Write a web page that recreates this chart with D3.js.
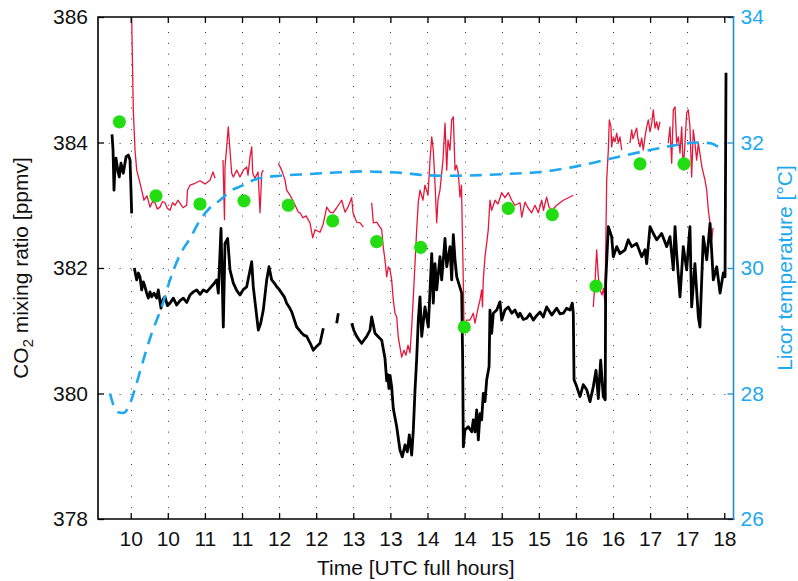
<!DOCTYPE html>
<html>
<head>
<meta charset="utf-8">
<script src="https://cdn.jsdelivr.net/npm/d3@7"></script>
<style>
  html, body { margin: 0; padding: 0; background: #fff; }
  svg { display: block; font-family: "Liberation Sans", Arial, sans-serif; }
</style>
</head>
<body>
<svg id="chart" width="798" height="581"></svg>
<script>
// Time axis: ticks every half hour, labelled with the full hour
const hourTicks = [10, 10.5, 11, 11.5, 12, 12.5, 13, 13.5, 14, 14.5, 15, 15.5, 16, 16.5, 17, 17.5, 18];
const hourTickLabels = ["10", "10", "11", "11", "12", "12", "13", "13", "14", "14", "15", "15", "16", "16", "17", "17", "18"];
const co2Ticks = [378, 380, 382, 384, 386];
const tempTicks = [26, 28, 30, 32, 34];

// Licor CO2 (black), null marks a data gap
const licorTime = [9.748, 9.762, 9.775, 9.789, 9.802, 9.829, 9.846, 9.869, 9.900, 9.937, 9.968, 9.991, 10.004, 10.013, 10.030,
  10.049, 10.065, 10.081, 10.103, 10.125, 10.148, 10.170, 10.193, 10.215, 10.237, 10.260, 10.283, 10.315, 10.350, 10.372, 10.408, 10.435, 10.462, 10.495, 10.530, 10.575, 10.620, 10.665, 10.709, 10.755, 10.799,
  10.845, 10.889, 10.935, 10.978, 11.025, 11.069, 11.115, 11.159, 11.181, 11.217, 11.248, 11.271, 11.307, 11.338, 11.383, 11.430, 11.473, 11.520, 11.563, 11.631, 11.652,
  11.720, 11.752, 11.787, 11.833, 11.864, 11.900, 11.935, 11.968, 12.000, 12.035, 12.070, 12.102, 12.135, 12.170, 12.237, 12.300, 12.335, 12.372, 12.420, 12.461, 12.505, 12.551,
  12.596, 12.690, 12.776, 12.798, 12.900, 12.978, 13.010, 13.046, 13.080, 13.113, 13.150, 13.181, 13.225, 13.248, 13.292, 13.340, 13.383, 13.427, 13.450,
  13.465, 13.480, 13.495, 13.517, 13.539, 13.585, 13.629, 13.660, 13.697, 13.728, 13.755, 13.787, 13.809, 13.832, 13.854,
  13.876, 13.899, 13.922, 13.966, 14.011, 14.057, 14.078, 14.101, 14.124, 14.168, 14.191, 14.236, 14.259, 14.303, 14.326,
  14.348, 14.371, 14.394, 14.461, 14.474, 14.483, 14.505, 14.550, 14.596, 14.617, 14.640, 14.663, 14.685, 14.708, 14.730,
  14.752, 14.775, 14.798, 14.830, 14.842, 14.865, 14.887, 14.933, 14.977, 15.000, 15.044, 15.089, 15.135, 15.179, 15.224,
  15.247, 15.290, 15.337, 15.380, 15.426, 15.470, 15.517, 15.560, 15.606, 15.674, 15.741, 15.785, 15.830, 15.875, 15.920, 15.951, 15.965, 15.975, 16.011, 16.055, 16.100,
  16.146, 16.190, 16.235, 16.271, 16.302, 16.334, 16.369, 16.395, 16.401, 16.437, 16.482, 16.504, 16.550, 16.594, 16.662,
  16.706, 16.752, 16.819, 16.887, 16.931, 16.954, 16.999, 17.043, 17.089, 17.156, 17.224, 17.268, 17.313, 17.336, 17.358,
  17.403, 17.447, 17.493, 17.537, 17.560, 17.604, 17.650, 17.672, 17.717, 17.763, 17.808, 17.852, 17.898, 17.943, 17.987,
  18.010, 18.023];
const licorCO2 = [384.13, 383.88, 383.24, 383.64, 383.75, 383.53, 383.45, 383.67, 383.51, 383.77, 383.80, 383.72, 383.24, 382.87, null,
  382.00, 381.90, 381.81, 381.92, 381.86, 381.65, 381.78, 381.70, 381.60, 381.52, 381.62, 381.54, 381.60, 381.52, 381.65, 381.36, 381.50, 381.54, 381.40, 381.44, 381.52, 381.41, 381.48, 381.52, 381.45, 381.57,
  381.62, 381.65, 381.58, 381.65, 381.62, 381.68, 381.74, 381.81, 381.60, 382.63, 381.06, 382.39, 382.47, 381.97, 381.76, 381.64, 381.57, 381.66, 381.70, 382.10, 381.70,
  381.01, 381.12, 381.33, 381.81, 382.02, 381.81, 381.76, 381.70, 381.66, 381.60, 381.54, 381.44, 381.38, 381.30, 381.06, 380.97, 380.93, 380.91, 380.80, 380.69, 380.75, 380.80,
  381.04, null, 381.12, 381.28, null, 381.12, 381.00, 380.91, 380.85, 380.80, 380.86, 380.91, 381.01, 381.22, 380.96, 380.90, 380.85, 380.56, 380.20,
  380.30, 380.08, 380.29, 380.11, 379.76, 379.47, 379.10, 378.99, 379.18, 379.07, 379.34, 379.02, 379.42, 380.06, 380.55,
  381.17, 381.54, 380.91, 381.38, 381.06, 382.23, 381.44, 382.07, 381.65, 382.18, 381.81, 382.47, 382.02, 382.34, 381.81,
  382.53, 382.13, 381.86, 381.60, 380.53, 379.15, 379.42, 379.47, 379.39, 379.58, 379.39, 379.74, 379.26, 379.68, 379.58,
  380.00, 379.87, 380.22, 380.43, 381.33, 380.96, 381.28, 381.33, 381.46, 381.17, 381.33, 381.38, 381.28, 381.33, 381.22,
  381.28, 381.18, 381.20, 381.27, 381.17, 381.24, 381.30, 381.22, 381.38, 381.25, 381.36, 381.27, 381.28, 381.36, 381.33, 381.44, 381.28, 380.22, 380.11, 379.95, 380.14,
  380.06, 379.87, 380.11, 380.37, 379.92, 380.53, 379.95, 379.90, 381.76, 382.66, 382.50, 382.18, 382.34, 382.23, 382.29,
  382.45, 382.34, 382.39, 382.18, 382.29, 382.07, 382.66, 382.55, 382.45, 382.55, 382.34, 382.50, 381.97, 382.66, 382.23,
  381.54, 382.34, 381.97, 382.66, 381.38, 382.07, 381.22, 381.06, 382.50, 382.13, 382.71, 381.81, 382.02, 381.60, 381.92,
  381.86, 385.11];

// Second CO2 record (red), null marks a data gap
const analyzerTime = [10.007, 10.013, 10.035, 10.058, 10.081, 10.116, 10.148, 10.179, 10.220, 10.260, 10.295, 10.327, 10.360, 10.395, 10.430, 10.462, 10.495, 10.530, 10.565, 10.597,
  10.637, 10.705, 10.755, 10.765, 10.799, 10.867, 10.934, 11.001, 11.069, 11.109, 11.136, 11.190,
  11.244, 11.264, 11.271, 11.294, 11.315, 11.338, 11.361, 11.383, 11.429, 11.473, 11.518, 11.563, 11.581, 11.608, 11.631,
  11.644, 11.675, 11.716, 11.743, 11.766, 11.787, 11.890,
  11.989, 12.035, 12.080, 12.102, 12.147, 12.201, 12.259, 12.282, 12.322, 12.363, 12.416, 12.453, 12.484, 12.551, 12.592,
  12.619, 12.642, 12.686, 12.726, 12.776, 12.821, 12.844, 12.888, 12.929, 12.978, 12.996, 13.046, 13.091, 13.135, 13.190,
  13.248, 13.270, 13.315, 13.360, 13.383, 13.404, 13.427, 13.450, 13.472, 13.495, 13.517, 13.539, 13.562, 13.585, 13.606,
  13.629, 13.652, 13.683, 13.710, 13.737, 13.764, 13.787, 13.809, 13.832, 13.854, 13.876, 13.899, 13.939, 13.966, 14.007,
  14.034, 14.057, 14.078, 14.101, 14.124, 14.141, 14.168, 14.209, 14.236, 14.259, 14.276, 14.303, 14.326, 14.348, 14.371,
  14.391, 14.415, 14.438, 14.458, 14.482, 14.492, 14.528, 14.573, 14.617, 14.640, 14.685, 14.708, 14.730, 14.741, 14.752,
  14.775, 14.798, 14.819, 14.842, 14.865, 14.910, 14.950, 15.000, 15.044, 15.089, 15.135, 15.179, 15.247, 15.270, 15.314,
  15.354, 15.404, 15.449, 15.493, 15.539, 15.563, 15.606, 15.637, 15.678, 15.741, 15.786, 15.830, 15.898, 15.965, 16.100,
  16.234, 16.257, 16.280, 16.302, 16.325, 16.352, 16.372, 16.392, 16.415, 16.437, 16.450, 16.473, 16.482, 16.504, 16.526,
  16.550, 16.571, 16.594, 16.617, 16.670,
  16.729, 16.752, 16.769, 16.796, 16.819, 16.837, 16.864, 16.887, 16.908, 16.931, 16.954, 16.976, 16.999, 17.022, 17.043,
  17.066, 17.089, 17.110, 17.133, 17.190,
  17.245, 17.268, 17.291, 17.313, 17.336, 17.358, 17.380, 17.403, 17.426, 17.447, 17.470, 17.493, 17.515, 17.537, 17.560,
  17.582, 17.604, 17.628, 17.650, 17.700, 17.740, 17.763, 17.785, 17.808, 17.831, 17.848];
const analyzerCO2 = [386.27, 386.00, 384.52, 383.88, 383.56, 383.40, 383.24, 383.08, 383.15, 382.97, 383.06, 383.04, 382.94, 382.97, 383.06, 383.04, 382.95, 382.92, 383.04, 383.00,
  383.08, 382.96, 383.00, 383.24, 383.32, 383.35, 383.39, 383.34, 383.40, 383.53, 383.43, null,
  383.72, 382.77, 383.61, 383.93, 384.25, 383.88, 383.51, 383.45, 383.56, 383.45, 383.56, 383.61, 383.48, 383.77, 383.93,
  383.51, 383.43, 383.53, 382.88, 383.51, 383.56, null,
  383.67, 383.56, 383.40, 383.24, 383.16, 383.04, 382.89, 382.88, 382.80, 382.83, 382.72, 382.48, 382.61, 382.57, 382.69,
  382.84, 382.97, 382.89, 382.88, 382.96, 383.04, 383.08, 382.89, 382.97, 383.12, 382.88, 382.73, 382.72, 382.65, null,
  383.04, 382.72, 382.73, 382.65, 382.61, 382.33, 382.13, 381.86, 382.02, 381.97, 381.81, 381.49, 381.28, 381.22, 380.90,
  380.74, 380.58, 380.69, 380.61, 380.77, 380.65, 381.06, 381.54, 382.08, 382.61, 383.05, 383.24, 383.08, 383.32, 383.16,
  383.72, 384.09, 383.88, 383.35, 382.72, 383.08, 383.24, 383.72, 384.31, 383.56, 384.04, 383.88, 384.36, 384.41, 383.56,
  383.64, 383.51, 383.13, 383.32, 381.81, 381.06, 381.17, 381.17, 381.28, 381.12, 381.38, 381.49, 381.65, 381.38, 381.81,
  382.18, 382.40, 382.61, 383.08, 382.92, 383.08, 383.02, 383.20, 383.12, 383.20, 383.08, 383.00, 383.04, 382.81, 383.05,
  382.96, 382.88, 383.00, 382.88, 383.08, 382.92, 383.13, 382.97, 382.92, 383.00, 383.04, 383.08, 383.12, 383.16, null,
  381.38, 381.76, 382.29, 381.86, 381.65, 381.57, 381.68, 381.44, 383.40, 383.88, 384.36, 384.25, 383.93, 384.09, 384.01,
  384.15, 383.99, 384.09, 383.88, null,
  383.99, 384.20, 384.06, 384.15, 384.23, 384.06, 383.93, 384.07, 383.88, 384.09, 384.25, 384.36, 384.17, 384.31, 384.52,
  384.23, 384.33, 384.20, 384.33, null,
  383.99, 384.25, 383.67, 384.52, 384.57, 383.99, 384.09, 383.83, 384.25, 383.56, 383.99, 384.47, 384.52, 384.25, 383.45,
  384.20, 383.99, 383.72, 383.99, 383.60, 383.40, 383.24, 382.92, 382.72, 382.45, 382.64];

// Discrete reference samples (green dots)
const sampleTime = [9.847, 10.341, 10.934, 11.527, 12.124, 12.722, 13.315, 13.908, 14.496, 15.089, 15.682, 16.271, 16.864, 17.457];
const sampleCO2 = [384.33, 383.15, 383.02, 383.07, 383.00, 382.75, 382.42, 382.33, 381.06, 382.95, 382.85, 381.71, 383.66, 383.66];

// Licor cell temperature (right axis)
const tempTime = [9.722, 9.766, 9.830, 9.900, 9.991, 10.058, 10.170, 10.283, 10.418, 10.530, 10.664, 10.799, 10.934, 11.069, 11.203,
  11.338, 11.517, 11.698, 12.012, 12.282, 12.596, 12.911, 13.135, 13.404, 13.720, 13.943, 14.303, 14.708, 15.089, 15.516,
  15.920, 16.280, 16.639, 16.999, 17.358, 17.628, 17.808, 17.919, 18.009];
const tempC = [28.00, 27.82, 27.70, 27.69, 27.84, 28.08, 28.53, 28.96, 29.38, 29.81, 30.21, 30.47, 30.76, 30.96, 31.08,
  31.22, 31.32, 31.42, 31.47, 31.49, 31.51, 31.53, 31.54, 31.53, 31.51, 31.48, 31.47, 31.48, 31.50, 31.53,
  31.60, 31.69, 31.79, 31.88, 31.96, 32.00, 31.99, 31.93, 31.88];

const plot = { left: 98, right: 733.5, top: 17, bottom: 519 };
const FONT = 21;
const TEMP_COLOR = "#1ea8f2";
const AXIS_RIGHT_COLOR = "#1c8fd0";

const svg = d3.select("#chart");

const x = d3.scaleLinear().domain([9.5593, 18.124]).range([plot.left, plot.right]);
const yCO2 = d3.scaleLinear().domain([378, 386]).range([plot.bottom, plot.top]);
const yTemp = d3.scaleLinear().domain([26, 34]).range([plot.bottom, plot.top]);

svg.append("defs").append("clipPath").attr("id", "plotClip")
  .append("rect")
  .attr("x", plot.left).attr("y", plot.top)
  .attr("width", plot.right - plot.left).attr("height", plot.bottom - plot.top);

// Dotted grid
const grid = svg.append("g").attr("stroke", "#3a3a3a").attr("stroke-width", 1)
  .attr("stroke-dasharray", "1,9.8").attr("fill", "none");
grid.selectAll("line.vx").data(hourTicks.filter(t => t < 18)).join("line")
  .attr("x1", d => Math.round(x(d)) + 0.5).attr("x2", d => Math.round(x(d)) + 0.5)
  .attr("y1", plot.bottom).attr("y2", plot.top);
grid.selectAll("line.hy").data(co2Ticks.filter(v => v > 378 && v < 386)).join("line")
  .attr("x1", plot.left).attr("x2", plot.right)
  .attr("y1", d => Math.round(yCO2(d)) + 0.5).attr("y2", d => Math.round(yCO2(d)) + 0.5);

const data = (ts, vs) => ts.map((t, i) => [t, vs[i]]);
const marks = svg.append("g").attr("clip-path", "url(#plotClip)");

// Red CO2 record
marks.append("path")
  .datum(data(analyzerTime, analyzerCO2))
  .attr("fill", "none").attr("stroke", "#e5173a").attr("stroke-width", 1.3)
  .attr("stroke-linejoin", "round")
  .attr("d", d3.line().defined(d => d[1] != null).x(d => x(d[0])).y(d => yCO2(d[1])));

// Licor CO2
marks.append("path")
  .datum(data(licorTime, licorCO2))
  .attr("fill", "none").attr("stroke", "#000").attr("stroke-width", 2.8)
  .attr("stroke-linejoin", "round")
  .attr("d", d3.line().defined(d => d[1] != null).x(d => x(d[0])).y(d => yCO2(d[1])));

// Licor temperature (dashed)
marks.append("path")
  .datum(data(tempTime, tempC))
  .attr("fill", "none").attr("stroke", TEMP_COLOR).attr("stroke-width", 2.6)
  .attr("stroke-dasharray", "12,8")
  .attr("d", d3.line().curve(d3.curveMonotoneX).x(d => x(d[0])).y(d => yTemp(d[1])));

// Reference samples
marks.selectAll("circle.sample").data(data(sampleTime, sampleCO2)).join("circle")
  .attr("class", "sample")
  .attr("cx", d => x(d[0])).attr("cy", d => yCO2(d[1])).attr("r", 6.6)
  .attr("fill", "#22dd11");

// Axes
const tickLabel = d3.scaleOrdinal().domain(hourTicks).range(hourTickLabels);

const xAxis = svg.append("g").attr("transform", `translate(0,${plot.bottom})`)
  .call(d3.axisBottom(x).tickValues(hourTicks).tickSize(-6).tickPadding(12)
    .tickFormat(d => tickLabel(d)));
const xAxisTop = svg.append("g").attr("transform", `translate(0,${plot.top})`)
  .call(d3.axisTop(x).tickValues(hourTicks).tickSize(-6).tickFormat(""));
const yAxis = svg.append("g").attr("transform", `translate(${plot.left},0)`)
  .call(d3.axisLeft(yCO2).tickValues(co2Ticks).tickSize(-6).tickPadding(10).tickFormat(d3.format("d")));
const yAxisRight = svg.append("g").attr("transform", `translate(${plot.right},0)`)
  .call(d3.axisRight(yTemp).tickValues(tempTicks).tickSize(-6).tickPadding(7).tickFormat(d3.format("d")));

[xAxis, xAxisTop, yAxis, yAxisRight].forEach(g => {
  g.select(".domain").remove();
  g.selectAll("text").attr("font-size", FONT).attr("font-family", "Liberation Sans, Arial, sans-serif");
});
[xAxis, xAxisTop, yAxis].forEach(g => g.selectAll(".tick line").attr("stroke", "#000").attr("stroke-width", 1.3));
[xAxis, yAxis].forEach(g => g.selectAll("text").attr("fill", "#111"));
yAxisRight.selectAll(".tick line").attr("stroke", AXIS_RIGHT_COLOR).attr("stroke-width", 1.3);
yAxisRight.selectAll("text").attr("fill", TEMP_COLOR);

// Frame
const frame = svg.append("g").attr("fill", "none").attr("stroke-linecap", "square");
frame.append("path").attr("stroke", "#000").attr("stroke-width", 1.6)
  .attr("d", `M${plot.right},${plot.top}H${plot.left}V${plot.bottom}H${plot.right}`);
frame.append("line").attr("stroke", AXIS_RIGHT_COLOR).attr("stroke-width", 1.6)
  .attr("x1", plot.right).attr("x2", plot.right).attr("y1", plot.top).attr("y2", plot.bottom);

// Axis titles
svg.append("text")
  .attr("x", (plot.left + plot.right) / 2).attr("y", 575)
  .attr("text-anchor", "middle").attr("font-size", FONT).attr("fill", "#111")
  .text("Time [UTC full hours]");

const yTitle = svg.append("text")
  .attr("transform", `translate(28,${(plot.top + plot.bottom) / 2}) rotate(-90)`)
  .attr("text-anchor", "middle").attr("font-size", FONT).attr("fill", "#111");
yTitle.append("tspan").text("CO");
yTitle.append("tspan").attr("font-size", FONT * 0.7).attr("dy", 5).text("2");
yTitle.append("tspan").attr("dy", -5).text(" mixing ratio [ppmv]");

svg.append("text")
  .attr("transform", `translate(792,${(plot.top + plot.bottom) / 2}) rotate(-90)`)
  .attr("text-anchor", "middle").attr("font-size", FONT).attr("fill", TEMP_COLOR)
  .text("Licor temperature [°C]");
</script>
</body>
</html>
